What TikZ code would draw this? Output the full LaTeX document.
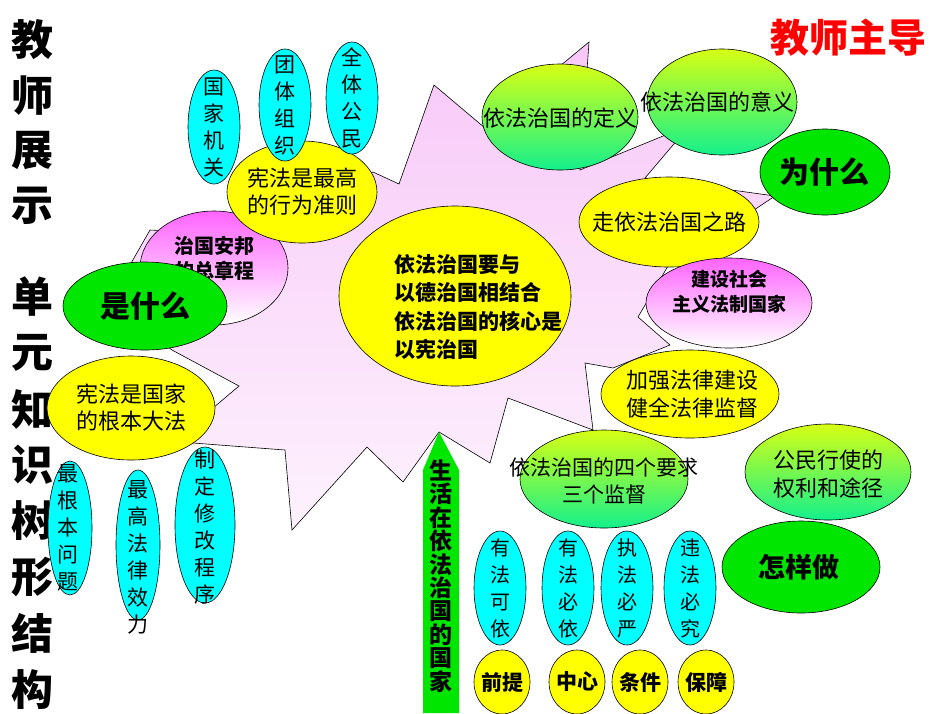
\documentclass[tikz,border=0pt]{standalone}
\usepackage{fontspec}
\setmainfont{Noto Sans CJK SC}
\usetikzlibrary{shapes.geometric}
\definecolor{cy}{RGB}{0,255,255}
\definecolor{yl}{RGB}{255,255,0}
\definecolor{gr}{RGB}{0,230,0}
\definecolor{gtop}{RGB}{215,255,20}
\definecolor{gbot}{RGB}{20,240,140}
\definecolor{pk}{RGB}{255,100,255}
\tikzset{
  base/.style={ellipse,draw=black,line width=0.6pt,inner sep=0pt},
  cyan e/.style={base,fill=cy},
  yel e/.style={base,fill=yl},
  grn e/.style={base,fill=gr},
  grad e/.style={base,top color=gtop,bottom color=gbot},
  pink e/.style={base,top color=pk,bottom color=white},
  txt/.style={font=\fontsize{22}{27}\selectfont,align=center,inner sep=0pt},
  btxt/.style={font=\bfseries\fontsize{20}{25}\selectfont,align=center,inner sep=0pt},
  big/.style={font=\bfseries\fontsize{30}{32}\selectfont,inner sep=0pt},
  vtxt/.style={font=\fontsize{21}{27}\selectfont,align=center,inner sep=0pt},
  title/.style={font=\bfseries\fontsize{42}{44}\selectfont,inner sep=0pt},
}
\newcommand{\ellnode}[6]{\node[#1,minimum width=#4*2pt,minimum height=#5*2pt] (#6) at (#2,#3) {};}
\begin{document}
\begin{tikzpicture}[x=1pt,y=-1pt]
\useasboundingbox (0,0) rectangle (950,713);
% star
\path[draw=black,line width=0.6pt,top color={rgb,255:red,248;green,200;blue,248},bottom color={rgb,255:red,253;green,242;blue,253}]
 (434,85)--(485,128)--(589,42)--(580,170)--(690,125)--(645,178)--(775,196)--(757,208)--(668,266)--(638,317)--(670,345)--(613,368)--(585,363)--(593,430)--(508,398)--(490,463)--(439,432)--(403,482)--(367,447)--(292,530)--(285,450)--(193,443)--(213,408)--(239,386)--(172,350)--(110,300)--(150,230)--(250,235)--(373,172)--(399,184)--cycle;
% green arrow
\path[fill=gr] (423,713)--(423,470)--(439,432)--(459,470)--(459,713)--cycle;
\foreach \c [count=\i] in {生,活,在,依,法,治,国,的,国,家}
  \node[font=\bfseries\fontsize{23}{23}\selectfont,inner sep=0pt] (arr\i) at (441,447+23.5*\i) {\c};
% left title
\foreach \c/\y [count=\i] in {教/40,师/96,展/151,示/206,单/297,元/353,知/409,识/465,树/521,形/577,结/633,构/690}
  \node[title] (t\i) at (33,\y) {\c};
\node[title,text=red,font=\bfseries\fontsize{39}{40}\selectfont] (lead) at (848,38) {教师主导};
% left branch
\ellnode{pink e}{214}{268}{74}{57}{zg}
\node[btxt] (zgt) at (214,258) {治国安邦\\的总章程};
\ellnode{yel e}{302}{192}{75}{51}{xf1}
\node[txt] (xf1t) at (302,192) {宪法是最高\\的行为准则};
\ellnode{cyan e}{214}{127}{26}{57}{c1}
\node[vtxt] (c1t) at (214,127) {国\\家\\机\\关};
\ellnode{cyan e}{285}{105}{26}{56}{c2}
\node[vtxt] (c2t) at (285,105) {团\\体\\组\\织};
\ellnode{cyan e}{352}{98}{26}{56}{c3}
\node[vtxt] (c3t) at (352,98) {全\\体\\公\\民};
\ellnode{grn e}{145}{306}{82}{44}{what}
\node[big] (whatt) at (145,306) {是什么};
\ellnode{yel e}{131}{408}{84}{52}{xf2}
\node[txt] (xf2t) at (131,408) {宪法是国家\\的根本大法};
\ellnode{cyan e}{70}{528}{22}{67}{d1}
\node[vtxt] (d1t) at (68,528) {最\\根\\本\\问\\题};
\ellnode{cyan e}{138}{545}{22}{75}{d2}
\node[vtxt] (d2t) at (138,557) {最\\高\\法\\律\\效\\力};
\ellnode{cyan e}{205}{525}{30}{78}{d3}
\node[vtxt] (d3t) at (205,527) {制\\定\\修\\改\\程\\序};
% center
\ellnode{yel e}{455}{296}{116}{90}{ctr}
\node[btxt,align=left,font=\bfseries\fontsize{21}{28.5}\selectfont] (ctrt) at (478,307) {依法治国要与\\以德治国相结合\\依法治国的核心是\\以宪治国};
% right branch
\ellnode{grad e}{560}{117}{78}{53}{def}
\node[txt] (deft) at (560,118) {依法治国的定义};
\ellnode{grad e}{722}{102}{75}{53}{mean}
\node[txt] (meant) at (717,102) {依法治国的意义};
\ellnode{grn e}{825}{172}{65}{43}{why}
\node[big] (whyt) at (824,172) {为什么};
\ellnode{yel e}{669}{222}{90}{45}{road}
\node[txt] (roadt) at (669,222) {走依法治国之路};
\ellnode{pink e}{729}{303}{83}{45}{jian}
\node[btxt,font=\bfseries\fontsize{19}{25}\selectfont] (jiant) at (729,292) {建设社会\\主义法制国家};
\ellnode{yel e}{690}{394}{89}{44}{jq}
\node[txt,font=\fontsize{22}{28}\selectfont] (jqt) at (692,394) {加强法律建设\\健全法律监督};
\ellnode{grad e}{604}{479}{84}{49}{four}
\node[txt,font=\fontsize{21}{27}\selectfont] (fourt) at (604,481) {依法治国的四个要求\\三个监督};
\ellnode{grad e}{828}{472}{83}{48}{gm}
\node[txt,font=\fontsize{22}{28}\selectfont] (gmt) at (828,474) {公民行使的\\权利和途径};
\ellnode{grn e}{801}{567}{79}{46}{how}
\node[big,font=\bfseries\fontsize{27}{30}\selectfont] (howt) at (799,567) {怎样做};
% bottom
\foreach \x/\t/\n in {500/{有\\法\\可\\依}/b1,568/{有\\法\\必\\依}/b2,627/{执\\法\\必\\严}/b3,690/{违\\法\\必\\究}/b4}{
  \node[cyan e,minimum width=52pt,minimum height=114pt] (\n) at (\x,588) {};
  \node[vtxt,font=\fontsize{20}{27}\selectfont] (\n t) at (\x,588) {\t};
}
\foreach \x/\t/\n in {502/前提/y1,577/中心/y2,640/条件/y3,706/保障/y4}{
  \node[yel e,minimum width=56pt,minimum height=64pt] (\n) at (\x,682) {};
  \node[btxt,font=\bfseries\fontsize{21}{22}\selectfont] (\n t) at (\x,682) {\t};
}
\end{tikzpicture}
\end{document}
